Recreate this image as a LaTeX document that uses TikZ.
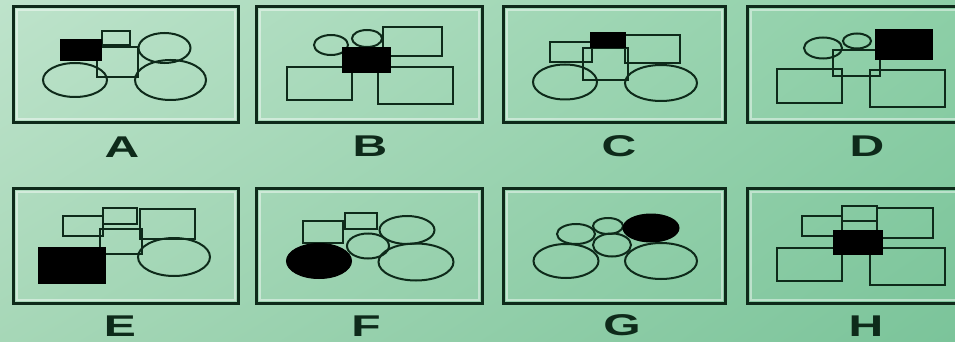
\documentclass[tikz,border=0pt]{standalone}
\usepackage{fontspec}
\setmainfont{Liberation Sans}
\usetikzlibrary{shadings}
\definecolor{ink}{HTML}{0E2A1A}
\definecolor{bgUL}{HTML}{BEE3CB}
\definecolor{bgUR}{HTML}{8DCFA7}
\definecolor{bgLL}{HTML}{A6D7B7}
\definecolor{bgLR}{HTML}{7BC49A}
\tikzset{
  frame/.style={draw=ink, line width=3pt},
  innerframe/.style={draw=white, draw opacity=0.45, line width=2pt},
  shp/.style={draw=ink, line width=2pt},
  blk/.style={draw=black, fill=black, line width=1pt},
  lbl/.style={text=ink, inner sep=0pt, font=\fontsize{30}{30}\selectfont\bfseries},
}
\newcommand{\wlab}[1]{\scalebox{1.6}[1]{#1}}
\begin{document}
\begin{tikzpicture}[x=1pt,y=-1pt]
\useasboundingbox (0,0) rectangle (955,342);
\shade[upper left=bgUL, upper right=bgUR, lower left=bgLL, lower right=bgLR] (0,0) rectangle (955,342);
% frames
\foreach \xa/\xb in {13/238, 256/482, 503/725, 747/975}{
  \draw[innerframe] (\xa+3.5,7+3.5) rectangle (\xb-3.5,123-3.5);
  \draw[frame] (\xa,7) rectangle (\xb,123);
  \draw[innerframe] (\xa+3.5,188+3.5) rectangle (\xb-3.5,303-3.5);
  \draw[frame] (\xa,188) rectangle (\xb,303);
}
% ---- A
\draw[shp] (102,31) rectangle (130,45);
\draw[shp] (164.5,48) ellipse [x radius=26pt, y radius=15pt];
\draw[shp] (97,47) rectangle (138,77);
\draw[shp] (75,80) ellipse [x radius=32pt, y radius=17pt];
\draw[shp] (170.5,80) ellipse [x radius=35.5pt, y radius=20pt];
\draw[blk] (60,40) rectangle (101,61);
% ---- B
\draw[shp] (331,45) ellipse [x radius=17pt, y radius=10pt];
\draw[shp] (367,38.5) ellipse [x radius=15pt, y radius=8.5pt];
\draw[shp] (383,27) rectangle (442,56);
\draw[shp] (287,67) rectangle (352,100);
\draw[shp] (378,67) rectangle (453,104);
\draw[blk] (342,48) rectangle (390,73);
% ---- C
\draw[shp] (550,42) rectangle (592,62);
\draw[shp] (625,35) rectangle (680,63);
\draw[shp] (583,48) rectangle (628,80);
\draw[shp] (565,82) ellipse [x radius=32pt, y radius=17.5pt];
\draw[shp] (661,83) ellipse [x radius=36pt, y radius=18pt];
\draw[blk] (590,33) rectangle (625,48);
% ---- D
\draw[shp] (823,48) ellipse [x radius=19pt, y radius=10.5pt];
\draw[shp] (857,41) ellipse [x radius=14pt, y radius=7.5pt];
\draw[shp] (833,50) rectangle (880,76);
\draw[shp] (777,69) rectangle (842,103);
\draw[shp] (870,70) rectangle (945,107);
\draw[blk] (875,30) rectangle (932,60);
% ---- E
\draw[shp] (63,216) rectangle (103,236);
\draw[shp] (103,208) rectangle (137,224);
\draw[shp] (140,209) rectangle (195,239);
\draw[shp] (100,229) rectangle (142,254);
\draw[shp] (174,257) ellipse [x radius=36pt, y radius=19pt];
\draw[blk] (38,247) rectangle (105,283);
% ---- F
\draw[shp] (303,221) rectangle (343,243);
\draw[shp] (345,213) rectangle (377,229);
\draw[shp] (407,230) ellipse [x radius=27.5pt, y radius=14pt];
\draw[shp] (368,246) ellipse [x radius=21pt, y radius=12.5pt];
\draw[shp] (416,262) ellipse [x radius=37.5pt, y radius=18.5pt];
\draw[blk] (319,261) ellipse [x radius=32.5pt, y radius=17.5pt];
% ---- G
\draw[shp] (576,234) ellipse [x radius=19pt, y radius=10pt];
\draw[shp] (608,226) ellipse [x radius=15pt, y radius=8pt];
\draw[shp] (612,245) ellipse [x radius=19pt, y radius=11.5pt];
\draw[shp] (566,261) ellipse [x radius=32.5pt, y radius=17pt];
\draw[shp] (661,261) ellipse [x radius=36pt, y radius=18pt];
\draw[blk] (651,228) ellipse [x radius=28pt, y radius=14pt];
% ---- H
\draw[shp] (802,216) rectangle (842,236);
\draw[shp] (842,206) rectangle (877,221);
\draw[shp] (877,208) rectangle (933,238);
\draw[shp] (777,248) rectangle (842,281);
\draw[shp] (870,248) rectangle (945,285);
\draw[blk] (833,230) rectangle (882,254);
% labels
\node[lbl] (la) at (122,147) {\wlab{A}};
\node[lbl] (lb) at (370,146) {\wlab{B}};
\node[lbl] (lc) at (619,146) {\wlab{C}};
\node[lbl] (ld) at (867,146) {\wlab{D}};
\node[lbl] (le) at (120,326) {\wlab{E}};
\node[lbl] (lf) at (366,326) {\wlab{F}};
\node[lbl] (lg) at (622,325) {\wlab{G}};
\node[lbl] (lh) at (866,326) {\wlab{H}};
\end{tikzpicture}
\end{document}
